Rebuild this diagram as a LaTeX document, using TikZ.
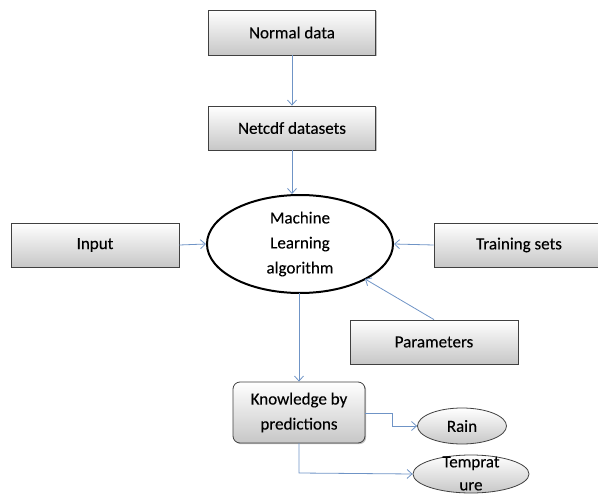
\documentclass[tikz,border=0pt]{standalone}
\usepackage{fontspec}
\setmainfont[FakeBold=0.15]{Carlito}
\usetikzlibrary{shapes.geometric,shadows,arrows.meta}
\begin{document}
\begin{tikzpicture}[x=1pt,y=-1pt,
  txt/.style={font=\fontsize{17}{25}\selectfont,align=center,inner sep=0pt},
  box/.style={txt,draw=black!75,line width=0.8pt,top color=white,bottom color=black!22,
    drop shadow={shadow xshift=1.2pt,shadow yshift=-1.2pt,opacity=0.5}},
  oval/.style={txt,ellipse,draw=black!75,line width=0.8pt,top color=white,bottom color=black!22},
  link/.style={draw={rgb,255:red,111;green,148;blue,198},line width=0.8pt,
    -{Straight Barb[length=5pt,width=9pt]}}]
\useasboundingbox (0,0) rectangle (598,495);
\node[box,minimum width=167pt,minimum height=45pt] (nd) at (292,32.5) {Normal data};
\node[box,minimum width=167pt,minimum height=44pt] (nc) at (292,128) {Netcdf datasets};
\node[box,minimum width=168pt,minimum height=44pt] (in) at (95,245) {Input};
\node[box,minimum width=170pt,minimum height=44pt] (ts) at (519,245) {Training sets};
\node[box,minimum width=168pt,minimum height=44pt] (pa) at (434,342) {Parameters};
\node[txt,ellipse,draw=black,line width=2pt,fill=white,minimum width=186pt,minimum height=98pt]
  (ml) at (300,244) {Machine\\Learning\\algorithm};
\node[box,rounded corners=7pt,minimum width=132pt,minimum height=61pt] (kp) at (299,412.5)
  {Knowledge by\\predictions};
\node[oval,minimum width=89pt,minimum height=36pt] (rn) at (462,426) {Rain};
\node[oval,minimum width=116pt,minimum height=38pt] (tp) at (471,474) {};
\node[font=\fontsize{17}{23}\selectfont,align=center,inner sep=0pt] (tpt) at (471,473.5) {Temprat\\ure};
\coordinate (mlb) at (299,293);
\coordinate (mlpa) at (365,279);
\coordinate (kr) at (365,413);
\coordinate (kb) at (299,443);
\draw[link] (nd.south) -- (nc.north);
\draw[link] (nc.south) -- (ml.north -| nc.south);
\draw[link] (in.east) -- (ml.west);
\draw[link] (ts.west) -- (ml.east);
\draw[link] (pa.north) -- (mlpa);
\draw[link] (mlb) -- (kp.north);
\draw[link] (kr) -- (392,413) -- (392,426) -- (rn.west);
\draw[link] (kb) -- (299,473) -- (tp.west);
\end{tikzpicture}
\end{document}
